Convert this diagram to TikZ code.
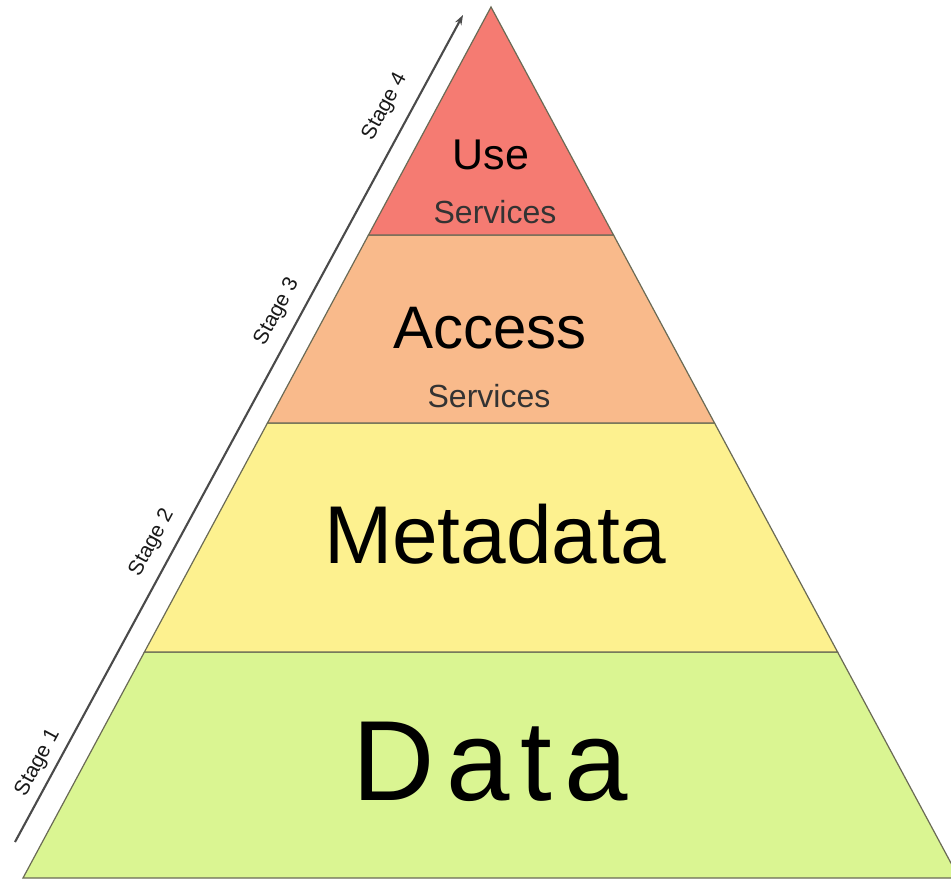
\documentclass[tikz,border=0pt]{standalone}
\usepackage{fontspec}
\setmainfont{Liberation Sans}
\usetikzlibrary{arrows.meta,calc}
\definecolor{useRed}{HTML}{F57B72}
\definecolor{accessOrange}{HTML}{F9BA8B}
\definecolor{metaYellow}{HTML}{FDF18F}
\definecolor{dataGreen}{HTML}{DAF592}
\definecolor{bandline}{HTML}{6A6A55}
\definecolor{arrowgray}{HTML}{4A4A4A}
\definecolor{subgray}{HTML}{333333}
\begin{document}
\begin{tikzpicture}[x=1pt,y=-1pt,
  band/.style={draw=bandline, line width=1.2pt, line join=miter},
  stagelbl/.style={font=\fontsize{21}{21}\selectfont, rotate=61.6, inner sep=0pt, text=black!90},
  mainlbl/.style={anchor=base, inner sep=0pt, text=black},
  sublbl/.style={anchor=base, inner sep=0pt, text=subgray, font=\fontsize{32}{32}\selectfont},
  arrowline/.style={draw=arrowgray, line width=2.1pt, -{Stealth[length=10pt,width=7pt]}}]
\useasboundingbox (0,0) rectangle (951,880);
\fill[white] (0,0) rectangle (951,880);
\begin{scope}
\clip (0,0) rectangle (951,880);
\coordinate (A) at (491,7);
\coordinate (BL) at (23,878);
\coordinate (BR) at (959,878);
\coordinate (L1) at ($(A)!0.2618!(BL)$); \coordinate (R1) at ($(A)!0.2618!(BR)$);
\coordinate (L2) at ($(A)!0.4776!(BL)$); \coordinate (R2) at ($(A)!0.4776!(BR)$);
\coordinate (L3) at ($(A)!0.7405!(BL)$); \coordinate (R3) at ($(A)!0.7405!(BR)$);
\path[band, fill=dataGreen] (L3) -- (BL) -- (BR) -- (R3) -- cycle;
\path[band, fill=metaYellow] (L2) -- (L3) -- (R3) -- (R2) -- cycle;
\path[band, fill=accessOrange] (L1) -- (L2) -- (R2) -- (R1) -- cycle;
\path[band, fill=useRed] (A) -- (L1) -- (R1) -- cycle;
\end{scope}
% labels
\node[mainlbl, font=\fontsize{43}{43}\selectfont] (use) at (491,170) {Use};
\node[sublbl] (usesvc) at (495,223) {Services};
\node[mainlbl, font=\fontsize{60}{60}\selectfont] (access) at (490,348) {Access};
\node[sublbl] (accsvc) at (489,407) {Services};
\node[mainlbl, font=\fontsize{82}{82}\selectfont] (meta) at (495,563) {Metadata};
\node[mainlbl, font=\fontsize{114}{114}\selectfont] (data) at (490,800) {D\kern11.5pt a\kern11.5pt t\kern11.5pt a};
% stage arrow
\coordinate (s0) at (15,842);
\coordinate (s1) at (463,15);
\draw[arrowline] (s0) -- (s1);
\node[stagelbl] (st1) at (38,763) {Stage 1};
\node[stagelbl] (st2) at (152,543) {Stage 2};
\node[stagelbl] (st3) at (277,312) {Stage 3};
\node[stagelbl] (st4) at (385,107) {Stage 4};
\end{tikzpicture}
\end{document}
